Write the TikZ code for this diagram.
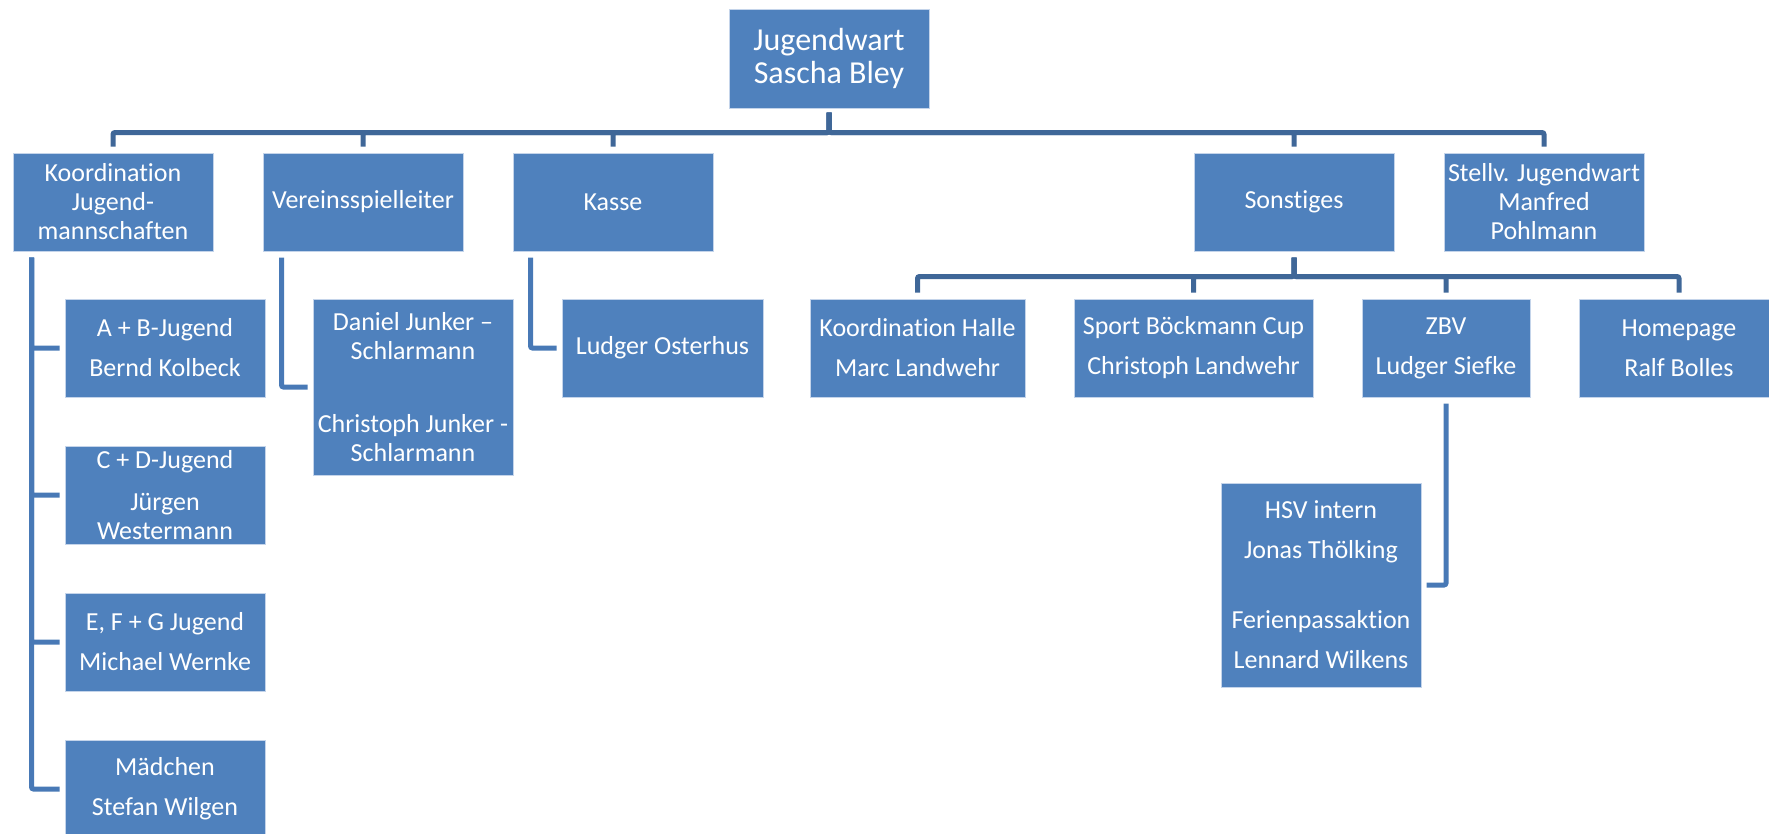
\documentclass[tikz,border=0pt]{standalone}
\usepackage{fontspec}
\setmainfont{Carlito}[Ligatures=NoCommon]
\usetikzlibrary{positioning}

\definecolor{boxblue}{RGB}{79,129,189}
\definecolor{boxrim}{RGB}{196,212,234}
\definecolor{busblue}{RGB}{63,103,152}
\definecolor{hangblue}{RGB}{72,121,182}

\tikzset{
    box/.style={draw=boxrim, line width=1pt, fill=boxblue, text=white, align=center,
        minimum width=200pt, minimum height=98pt, inner sep=0pt,
        font=\fontsize{26}{29}\selectfont},
    bus/.style={draw=busblue, line width=5pt, rounded corners=2pt},
    hang/.style={draw=hangblue, line width=5pt, rounded corners=2pt},
}

\begin{document}
\begin{tikzpicture}[x=1pt, y=-1pt]
    \useasboundingbox (0,0) rectangle (1769,833);

    \node[box, minimum height=99pt, font=\fontsize{32}{33}\selectfont] (jw) at (829,58.5) {Jugendwart\\Sascha Bley};

    \node[box] (koord) at (113,202) {Koordination\\Jugend-\\mannschaften};
    \node[box, right=49pt of koord] (verein) {Vereinsspielleiter};
    \node[box, right=49pt of verein] (kasse) {Kasse};
    \node[box] (sonst) at (1294,202) {Sonstiges};
    \node[box, right=49pt of sonst] (stellv) {Stellv. Jugendwart\\Manfred\\Pohlmann};

    \node[box] (ab) at (165,348) {A + B-Jugend\\[11pt]Bernd Kolbeck};
    \node[box, below=48pt of ab] (cd) {C + D-Jugend\\[13pt]Jürgen\\Westermann};
    \node[box, below=48pt of cd] (efg) {E, F + G Jugend\\[11pt]Michael Wernke};
    \node[box, below=48pt of efg] (maed) {Mädchen\\[11pt]Stefan Wilgen};

    \node[box, minimum height=176pt] (daniel) at (413,387) {Daniel Junker --\\Schlarmann\\[44pt]Christoph Junker -\\Schlarmann};
    \node[box, minimum width=201pt] (oster) at (662.5,348) {Ludger Osterhus};

    \node[box, minimum width=215pt] (halle) at (917.5,348) {Koordination Halle\\[11pt]Marc Landwehr};
    \node[box, minimum width=239pt, right=48pt of halle] (sport) {Sport Böckmann Cup\\[11pt]Christoph Landwehr};
    \node[box, minimum width=168pt, right=48pt of sport] (zbv) {ZBV\\[11pt]Ludger Siefke};
    \node[box, right=48pt of zbv] (home) {Homepage\\[11pt]Ralf Bolles};

    \node[box, minimum height=204pt] (hsv) at (1321,585) {HSV intern\\[11pt]Jonas Thölking\\[41pt]Ferienpassaktion\\[11pt]Lennard Wilkens};

    \draw[bus, shorten <=4pt, shorten >=6pt] (jw.south) -- ++(0,24) -| (koord.north);
    \draw[bus, shorten <=4pt, shorten >=6pt] (jw.south) -- ++(0,24) -| (verein.north);
    \draw[bus, shorten <=4pt, shorten >=6pt] (jw.south) -- ++(0,24) -| (kasse.north);
    \draw[bus, shorten <=4pt, shorten >=6pt] (jw.south) -- ++(0,24) -| (sonst.north);
    \draw[bus, shorten <=4pt, shorten >=6pt] (jw.south) -- ++(0,24) -| (stellv.north);

    \draw[bus, shorten <=6pt, shorten >=6pt] (sonst.south) -- ++(0,25) -| (halle.north);
    \draw[bus, shorten <=6pt, shorten >=6pt] (sonst.south) -- ++(0,25) -| (sport.north);
    \draw[bus, shorten <=6pt, shorten >=6pt] (sonst.south) -- ++(0,25) -| (zbv.north);
    \draw[bus, shorten <=6pt, shorten >=6pt] (sonst.south) -- ++(0,25) -| (home.north);

    \draw[hang, shorten <=6pt, shorten >=5pt] ([xshift=19pt]koord.south west) |- (ab.west);
    \draw[hang, shorten <=6pt, shorten >=5pt] ([xshift=19pt]koord.south west) |- (cd.west);
    \draw[hang, shorten <=6pt, shorten >=5pt] ([xshift=19pt]koord.south west) |- (efg.west);
    \draw[hang, shorten <=6pt, shorten >=5pt] ([xshift=19pt]koord.south west) |- (maed.west);
    \draw[hang, shorten <=6pt, shorten >=5pt] ([xshift=19pt]verein.south west) |- (daniel.west);
    \draw[hang, shorten <=6pt, shorten >=5pt] ([xshift=18pt]kasse.south west) |- (oster.west);
    \draw[hang, shorten <=6pt, shorten >=5pt] (zbv.south) |- (hsv.east);
\end{tikzpicture}
\end{document}
